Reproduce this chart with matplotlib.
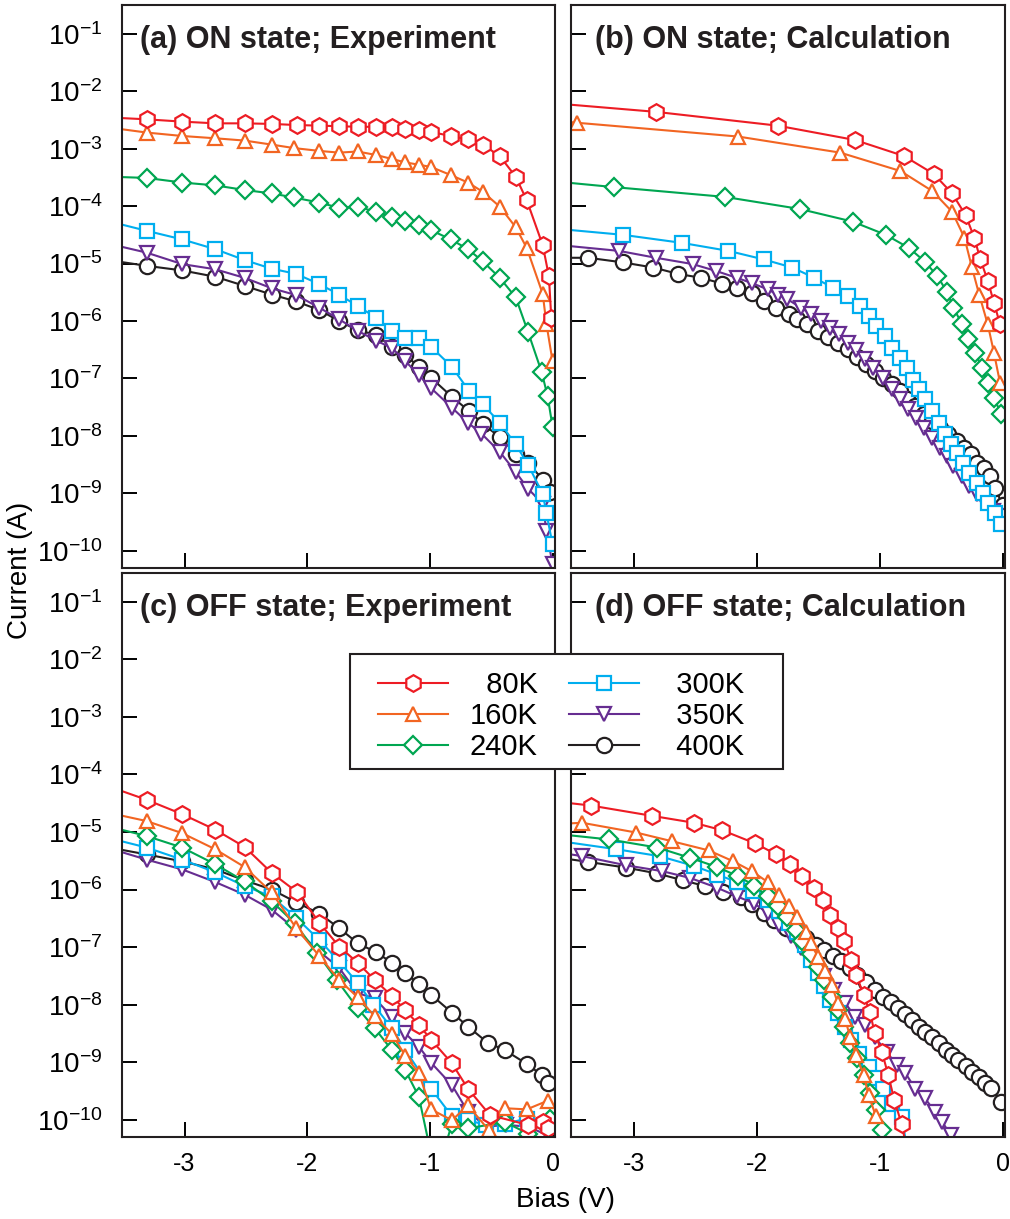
import matplotlib
matplotlib.use('Agg')
import matplotlib.pyplot as plt
from matplotlib.patches import Rectangle
from matplotlib.ticker import NullLocator, FixedLocator, FixedFormatter

plt.rcParams['font.family'] = ['Liberation Sans', 'DejaVu Sans']
plt.rcParams['mathtext.fontset'] = 'custom'
plt.rcParams['mathtext.rm'] = 'Liberation Sans'
plt.rcParams['mathtext.default'] = 'regular'
plt.rcParams['axes.unicode_minus'] = False

temps = ['\u200780K', '160K', '240K', '\u2007300K', '\u2007350K', '\u2007400K']
colors = ['#ed1c24', '#f26522', '#00a651', '#00aeef', '#662d91', '#231f20']
markers = ['h', '^', 'D', 's', 'v', 'o']
msizes = [12, 10.5, 9.5, 9.5, 10.5, 11]

titles = ['(a) ON state; Experiment', '(b) ON state; Calculation',
          '(c) OFF state; Experiment', '(d) OFF state; Calculation']

# bias (V), log10 current (A)
on_exp_80 = ([-3.59, -3.31, -3.02, -2.75, -2.51, -2.29, -2.08, -1.90, -1.74, -1.59, -1.44, -1.31, -1.20, -1.09, -0.99, -0.83, -0.69, -0.57, -0.43, -0.30, -0.21, -0.08, -0.03, -0.01],
             [-2.46, -2.49, -2.53, -2.56, -2.56, -2.57, -2.59, -2.60, -2.61, -2.62, -2.62, -2.63, -2.65, -2.67, -2.71, -2.78, -2.84, -2.93, -3.13, -3.49, -3.90, -4.68, -5.22, -5.95])
on_exp_160 = ([-3.59, -3.31, -3.02, -2.75, -2.51, -2.29, -2.11, -1.90, -1.74, -1.59, -1.44, -1.31, -1.20, -1.09, -0.99, -0.83, -0.69, -0.57, -0.43, -0.30, -0.21, -0.08, -0.05, 0.0],
              [-2.64, -2.72, -2.78, -2.82, -2.86, -2.93, -2.99, -3.04, -3.07, -3.05, -3.11, -3.18, -3.24, -3.28, -3.32, -3.46, -3.59, -3.75, -4.01, -4.37, -4.73, -5.53, -6.05, -6.70])
on_exp_240 = ([-3.59, -3.31, -3.02, -2.75, -2.51, -2.29, -2.11, -1.90, -1.74, -1.59, -1.44, -1.31, -1.20, -1.09, -0.99, -0.83, -0.69, -0.57, -0.43, -0.30, -0.20, -0.09, -0.04, 0.0],
              [-3.49, -3.51, -3.59, -3.64, -3.72, -3.78, -3.85, -3.94, -4.03, -4.01, -4.10, -4.19, -4.26, -4.33, -4.42, -4.58, -4.75, -4.96, -5.25, -5.59, -6.19, -6.88, -7.31, -7.84])
on_exp_300 = ([-3.59, -3.31, -3.02, -2.75, -2.51, -2.29, -2.09, -1.90, -1.74, -1.59, -1.44, -1.31, -1.20, -1.09, -0.99, -0.82, -0.68, -0.57, -0.43, -0.30, -0.20, -0.08, -0.05, 0.0],
              [-4.28, -4.43, -4.58, -4.75, -4.94, -5.09, -5.18, -5.36, -5.54, -5.74, -5.94, -6.17, -6.30, -6.30, -6.45, -6.80, -7.22, -7.45, -7.77, -8.15, -8.50, -9.01, -9.34, -9.89])
on_exp_350 = ([-3.59, -3.31, -3.02, -2.75, -2.51, -2.29, -2.09, -1.90, -1.74, -1.59, -1.44, -1.31, -1.20, -1.09, -0.99, -0.82, -0.69, -0.58, -0.43, -0.30, -0.20, -0.08, -0.05, 0.0],
              [-4.67, -4.81, -5.01, -5.10, -5.25, -5.43, -5.55, -5.77, -5.97, -6.17, -6.34, -6.47, -6.70, -6.94, -7.17, -7.51, -7.77, -7.96, -8.28, -8.63, -8.92, -9.18, -9.66, -10.23])
on_exp_400 = ([-3.59, -3.31, -3.02, -2.75, -2.51, -2.29, -2.09, -1.90, -1.74, -1.59, -1.44, -1.31, -1.20, -1.09, -0.99, -0.82, -0.68, -0.57, -0.43, -0.30, -0.20, -0.08, -0.02],
              [-4.95, -5.04, -5.12, -5.23, -5.39, -5.54, -5.66, -5.81, -6.00, -6.16, -6.24, -6.45, -6.59, -6.80, -6.99, -7.32, -7.57, -7.79, -8.02, -8.31, -8.47, -8.76, -8.97])

on_calc_80 = ([-3.60, -2.82, -1.83, -1.20, -0.80, -0.56, -0.41, -0.30, -0.23, -0.18, -0.12, -0.07, -0.02],
              [-2.22, -2.36, -2.60, -2.85, -3.13, -3.44, -3.78, -4.16, -4.55, -4.93, -5.30, -5.68, -6.06])
on_calc_160 = ([-3.60, -3.46, -2.15, -1.32, -0.83, -0.57, -0.41, -0.31, -0.25, -0.19, -0.12, -0.07, -0.02],
               [-2.52, -2.55, -2.79, -3.07, -3.39, -3.74, -4.10, -4.55, -5.06, -5.54, -6.06, -6.55, -7.08])
on_calc_240 = ([-3.60, -3.16, -2.26, -1.65, -1.22, -0.95, -0.76, -0.63, -0.53, -0.45, -0.40, -0.33, -0.28, -0.22, -0.17, -0.12, -0.07, -0.01],
               [-3.58, -3.67, -3.84, -4.05, -4.27, -4.50, -4.73, -4.97, -5.22, -5.50, -5.77, -6.05, -6.32, -6.55, -6.82, -7.08, -7.34, -7.62])
on_calc_300 = ([-3.60, -3.09, -2.61, -2.23, -1.94, -1.71, -1.53, -1.38, -1.26, -1.16, -1.09, -1.03, -0.96, -0.90, -0.83, -0.78, -0.73, -0.68, -0.63, -0.57, -0.52, -0.47, -0.42, -0.37, -0.32, -0.27, -0.21, -0.16, -0.12, -0.06, -0.01],
               [-4.40, -4.50, -4.64, -4.78, -4.93, -5.07, -5.25, -5.42, -5.56, -5.74, -5.91, -6.09, -6.26, -6.47, -6.64, -6.82, -7.02, -7.19, -7.36, -7.57, -7.77, -7.96, -8.15, -8.29, -8.47, -8.64, -8.82, -8.99, -9.17, -9.34, -9.54])
on_calc_350 = ([-3.60, -3.12, -2.82, -2.52, -2.33, -2.16, -2.04, -1.91, -1.83, -1.75, -1.64, -1.56, -1.48, -1.40, -1.33, -1.26, -1.19, -1.12, -1.05, -0.97, -0.90, -0.83, -0.77, -0.70, -0.64, -0.57, -0.51, -0.45, -0.40, -0.33, -0.27, -0.21, -0.14, -0.08, 0.0],
               [-4.68, -4.78, -4.90, -5.01, -5.13, -5.25, -5.34, -5.45, -5.54, -5.62, -5.77, -5.88, -6.00, -6.12, -6.23, -6.38, -6.51, -6.67, -6.82, -6.99, -7.19, -7.36, -7.54, -7.69, -7.86, -8.03, -8.21, -8.35, -8.53, -8.70, -8.88, -9.02, -9.17, -9.31, -9.40])
on_calc_400 = ([-3.60, -3.37, -3.09, -2.84, -2.64, -2.45, -2.28, -2.16, -2.04, -1.94, -1.84, -1.74, -1.67, -1.59, -1.50, -1.42, -1.34, -1.26, -1.18, -1.11, -1.04, -0.97, -0.90, -0.83, -0.78, -0.71, -0.64, -0.57, -0.51, -0.44, -0.37, -0.31, -0.26, -0.21, -0.15, -0.10, -0.06, 0.0],
               [-4.90, -4.90, -4.98, -5.07, -5.18, -5.25, -5.35, -5.43, -5.52, -5.66, -5.77, -5.88, -5.97, -6.06, -6.17, -6.28, -6.38, -6.49, -6.63, -6.75, -6.87, -6.99, -7.10, -7.22, -7.35, -7.48, -7.62, -7.74, -7.86, -7.97, -8.09, -8.21, -8.32, -8.47, -8.56, -8.70, -8.90, -9.21])

off_exp_80 = ([-3.59, -3.31, -3.02, -2.75, -2.51, -2.29, -2.08, -1.90, -1.74, -1.59, -1.45, -1.31, -1.20, -1.09, -0.99, -0.82, -0.69, -0.51, -0.20, -0.08, -0.04],
              [-4.23, -4.44, -4.69, -4.96, -5.26, -5.71, -6.05, -6.58, -6.99, -7.27, -7.57, -7.85, -8.10, -8.35, -8.61, -9.02, -9.46, -9.92, -10.09, -10.04, -10.15])
off_exp_160 = ([-3.59, -3.31, -3.02, -2.75, -2.51, -2.29, -2.09, -1.90, -1.74, -1.59, -1.45, -1.31, -1.20, -1.09, -0.99, -0.82, -0.69, -0.52, -0.39, -0.21, -0.04],
               [-4.68, -4.81, -5.02, -5.30, -5.61, -6.05, -6.67, -7.16, -7.57, -7.87, -8.20, -8.51, -8.89, -9.19, -9.82, -10.01, -9.75, -10.18, -9.80, -9.82, -9.67])
off_exp_240 = ([-3.59, -3.31, -3.02, -2.75, -2.51, -2.29, -2.10, -1.92, -1.76, -1.59, -1.45, -1.31, -1.20, -1.09, -0.95, -0.82, -0.69, -0.39, -0.20, -0.02],
               [-4.92, -5.07, -5.27, -5.56, -5.86, -6.20, -6.59, -7.10, -7.57, -8.06, -8.41, -8.79, -9.14, -9.60, -11.0, -10.07, -10.15, -10.04, -10.24, -9.98])
off_exp_300 = ([-3.59, -3.31, -3.02, -2.75, -2.51, -2.29, -2.09, -1.90, -1.74, -1.59, -1.46, -1.31, -1.20, -0.99, -0.82, -0.69, -0.54, -0.39, -0.21, -0.04],
               [-5.12, -5.27, -5.48, -5.70, -5.94, -6.12, -6.49, -6.88, -7.25, -7.62, -8.00, -8.41, -8.79, -9.46, -9.94, -10.01, -10.09, -10.07, -9.98, -10.07])
off_exp_350 = ([-3.59, -3.31, -3.02, -2.75, -2.51, -2.29, -2.09, -1.90, -1.74, -1.59, -1.45, -1.31, -1.20, -1.09, -0.99, -0.82, -0.69, -0.54, -0.38, -0.20, -0.04],
               [-5.30, -5.48, -5.65, -5.87, -6.09, -6.35, -6.70, -7.08, -7.36, -7.80, -7.89, -8.21, -8.50, -8.73, -9.01, -9.40, -9.86, -10.12, -10.09, -10.12, -10.27])
off_exp_400 = ([-3.59, -3.31, -3.02, -2.75, -2.51, -2.29, -2.09, -1.90, -1.74, -1.59, -1.44, -1.31, -1.20, -1.09, -0.99, -0.82, -0.69, -0.53, -0.39, -0.21, -0.09, -0.04],
               [-5.28, -5.39, -5.51, -5.65, -5.84, -6.00, -6.22, -6.42, -6.67, -6.93, -7.09, -7.27, -7.45, -7.64, -7.83, -8.14, -8.38, -8.66, -8.79, -9.03, -9.22, -9.37])

off_calc_80 = ([-3.60, -3.35, -2.85, -2.51, -2.28, -2.01, -1.84, -1.73, -1.63, -1.53, -1.46, -1.40, -1.34, -1.29, -1.23, -1.19, -1.13, -1.08, -1.04, -0.98, -0.93, -0.88, -0.82, -0.77],
               [-4.48, -4.54, -4.72, -4.84, -4.97, -5.20, -5.39, -5.56, -5.76, -5.97, -6.19, -6.44, -6.67, -6.90, -7.22, -7.48, -7.83, -8.12, -8.49, -8.83, -9.22, -9.66, -10.08, -10.60])
off_calc_160 = ([-3.60, -3.42, -2.98, -2.69, -2.39, -2.19, -2.04, -1.91, -1.82, -1.74, -1.67, -1.60, -1.56, -1.50, -1.44, -1.39, -1.34, -1.28, -1.24, -1.19, -1.13, -1.09, -1.03],
                [-4.86, -4.84, -5.01, -5.16, -5.32, -5.51, -5.68, -5.87, -6.09, -6.29, -6.47, -6.73, -6.93, -7.18, -7.42, -7.66, -7.97, -8.25, -8.56, -8.88, -9.22, -9.57, -9.94])
off_calc_240 = ([-3.60, -3.20, -2.81, -2.54, -2.32, -2.15, -2.02, -1.91, -1.83, -1.75, -1.68, -1.63, -1.56, -1.50, -1.45, -1.39, -1.34, -1.29, -1.24, -1.18, -1.13, -1.08, -1.03, -0.98],
                [-5.04, -5.13, -5.27, -5.45, -5.61, -5.77, -5.93, -6.12, -6.29, -6.47, -6.71, -6.90, -7.12, -7.35, -7.58, -7.86, -8.10, -8.38, -8.66, -8.93, -9.22, -9.54, -9.83, -10.18])
off_calc_300 = ([-3.60, -3.14, -2.79, -2.51, -2.32, -2.16, -2.03, -1.91, -1.82, -1.74, -1.67, -1.61, -1.56, -1.50, -1.45, -1.40, -1.34, -1.28, -1.23, -1.17, -1.09, -1.03, -0.97, -0.90, -0.82, -0.76],
                [-5.16, -5.30, -5.42, -5.59, -5.74, -5.87, -6.03, -6.19, -6.38, -6.58, -6.74, -6.96, -7.22, -7.45, -7.68, -7.92, -8.15, -8.38, -8.61, -8.85, -9.08, -9.28, -9.46, -9.72, -9.95, -10.70])
off_calc_350 = ([-3.60, -3.42, -3.06, -2.77, -2.54, -2.32, -2.16, -2.02, -1.91, -1.82, -1.72, -1.64, -1.56, -1.45, -1.37, -1.28, -1.20, -1.12, -1.04, -0.94, -0.86, -0.79, -0.71, -0.63, -0.55, -0.49, -0.42],
                [-5.36, -5.42, -5.58, -5.68, -5.80, -5.97, -6.12, -6.24, -6.41, -6.61, -6.81, -7.02, -7.25, -7.51, -7.74, -7.97, -8.21, -8.35, -8.56, -8.83, -9.05, -9.19, -9.46, -9.63, -9.86, -10.04, -10.27])
off_calc_400 = ([-3.60, -3.37, -3.06, -2.81, -2.60, -2.42, -2.27, -2.13, -2.04, -1.94, -1.86, -1.76, -1.69, -1.60, -1.52, -1.45, -1.38, -1.31, -1.24, -1.18, -1.11, -1.04, -0.97, -0.91, -0.85, -0.79, -0.74, -0.68, -0.63, -0.57, -0.52, -0.46, -0.41, -0.36, -0.30, -0.25, -0.19, -0.14, -0.09, -0.01],
                [-5.45, -5.52, -5.62, -5.72, -5.84, -5.94, -6.05, -6.13, -6.26, -6.41, -6.53, -6.67, -6.75, -6.84, -6.96, -7.05, -7.16, -7.25, -7.36, -7.48, -7.60, -7.74, -7.86, -7.96, -8.06, -8.16, -8.26, -8.38, -8.47, -8.57, -8.67, -8.78, -8.87, -8.96, -9.07, -9.17, -9.26, -9.36, -9.45, -9.69])

panels = [
    [on_exp_80, on_exp_160, on_exp_240, on_exp_300, on_exp_350, on_exp_400],
    [on_calc_80, on_calc_160, on_calc_240, on_calc_300, on_calc_350, on_calc_400],
    [off_exp_80, off_exp_160, off_exp_240, off_exp_300, off_exp_350, off_exp_400],
    [off_calc_80, off_calc_160, off_calc_240, off_calc_300, off_calc_350, off_calc_400],
]

W, H = 1010, 1219
fig = plt.figure(figsize=(W / 100, H / 100), dpi=100)

# pixel boxes: left, top, right, bottom
boxes = [(122, 5, 555, 568), (571, 5, 1005, 568),
         (122, 573, 555, 1137), (571, 573, 1005, 1137)]
title_x = [0.042, 0.055, 0.042, 0.055]

yticks = [10.0 ** -k for k in range(1, 11)]
ylabels = [r'$10^{-%d}$' % k for k in range(1, 11)]

axes = []
for i, (l, t, r, b) in enumerate(boxes):
    ax = fig.add_axes([l / W, 1 - b / H, (r - l) / W, (b - t) / H])
    axes.append(ax)
    series = panels[i]
    # draw low temperatures last so they sit on top
    for j in reversed(range(6)):
        v, logi = series[j]
        ax.plot(v, [10.0 ** x for x in logi], color=colors[j], lw=1.5,
                marker=markers[j], ms=msizes[j], mfc='white', mec=colors[j],
                mew=1.6, label=temps[j])
    ax.set_yscale('log')
    ax.set_ylim(10 ** -10.3, 10 ** -0.5)
    ax.set_xlim(-3.51, 0.02)
    ax.yaxis.set_major_locator(FixedLocator(yticks))
    ax.yaxis.set_minor_locator(NullLocator())
    ax.set_xticks([-3, -2, -1, 0])
    ax.tick_params(direction='in', length=10.5, width=1.4, top=False, right=False)
    ax.tick_params(axis='y', labelsize=20, pad=14)
    ax.tick_params(axis='x', labelsize=18, pad=11)
    if i in (0, 2):
        ax.yaxis.set_major_formatter(FixedFormatter(ylabels))
    else:
        ax.set_yticklabels([])
    if i in (0, 1):
        ax.set_xticklabels([])
    else:
        ax.set_xticklabels(['-3', '-2', '-1', '0'])
    for s in ax.spines.values():
        s.set_linewidth(1.5)
        s.set_color('#231f20')
    ax.text(title_x[i], 0.938, titles[i], transform=ax.transAxes,
            fontsize=22, fontweight='bold', ha='left', va='center', color='#231f20')

fig.text(565 / W, 1 - 1200 / H, 'Bias (V)', fontsize=20, ha='center', va='center')
fig.text(20 / W, 1 - 570 / H, 'Current (A)', fontsize=20, rotation=90,
         ha='center', va='center')

# legend frame drawn separately so its padding can match the original
frame = Rectangle((350 / W, 1 - 769 / H), 433 / W, 115 / H, transform=fig.transFigure,
                  facecolor='white', edgecolor='#231f20', lw=1.5, zorder=4)
fig.add_artist(frame)

handles, labels = axes[0].get_legend_handles_labels()
handles = handles[::-1]
labels = labels[::-1]
leg = fig.legend(handles, labels, ncol=2, loc='upper left',
                 bbox_to_anchor=(378 / W, 1 - 671 / H),
                 fontsize=21, frameon=False, handlelength=2.4, labelspacing=0.1,
                 columnspacing=1.05, borderpad=0, borderaxespad=0, handletextpad=0.75)
leg.set_zorder(5)

fig.savefig('out.png', dpi=100)
